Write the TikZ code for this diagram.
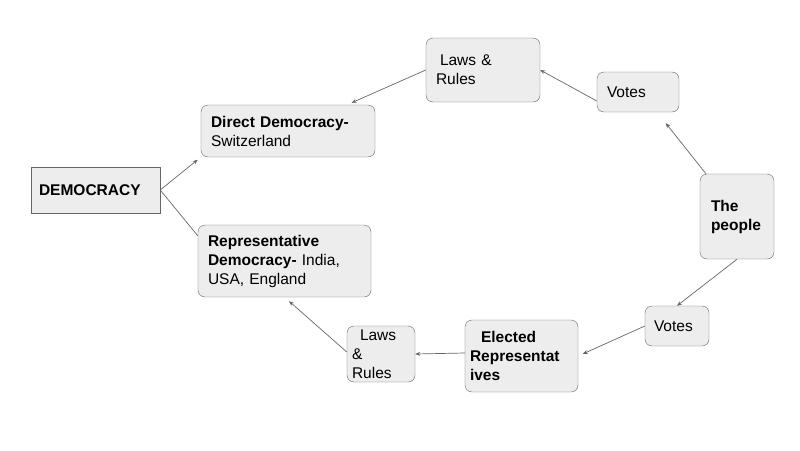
\documentclass[tikz,border=0pt]{standalone}
\usepackage{fontspec}
\setmainfont{Liberation Sans}
\usetikzlibrary{arrows.meta}

\tikzset{
  box/.style={draw=black!60, fill=black!7, rounded corners=7pt, inner xsep=10pt, inner ysep=0pt, align=left,
    font=\fontsize{15.5}{19}\selectfont},
  arr/.style={draw=black!60, line width=0.7pt, -{Stealth[length=5pt,width=4pt]}},
  link/.style={draw=black!60, line width=0.7pt}
}

\begin{document}
\begin{tikzpicture}[x=1pt, y=-1pt]
        \useasboundingbox (0,0) rectangle (800,450);
        \node[box, rounded corners=0pt, inner xsep=8pt, text width=113pt, minimum height=46pt] (dem) at (95.5,190) {\textbf{DEMOCRACY}};
        \node[box, text width=154pt, minimum height=52pt] (direct) at (288,131) {\textbf{Direct Democracy-}\\Switzerland};
        \node[box, text width=153pt, minimum height=72pt] (repr) at (284.5,261) {\textbf{Representative}\\\textbf{Democracy-} India,\\USA, England};
        \node[box, text width=94pt, minimum height=64pt] (lawstop) at (483,70) {\hspace*{4pt}Laws \&\\Rules};
        \node[box, text width=62pt, minimum height=40pt] (votestop) at (638,92) {Votes};
        \node[box, inner xsep=11pt, text width=52pt, minimum height=85pt] (people) at (737,216.5) {\textbf{The}\\\textbf{people}};
        \node[box, inner xsep=9pt, text width=46pt, minimum height=40pt] (votesbot) at (677,326) {Votes};
        \node[box, inner xsep=5pt, text width=103pt, minimum height=72pt] (elected) at (521.5,356) {\hspace*{11pt}\textbf{Elected}\\\textbf{Representat}\\\textbf{ives}};
        \node[box, inner xsep=5pt, text width=58pt, minimum height=56pt] (lawsbot) at (381,354) {\hspace*{8pt}Laws\\\&\\Rules};

        \draw[arr, shorten >=4pt] (dem.east) -- (direct.south west);
        \draw[link] (dem.east) -- ([yshift=-11pt]repr.north west);
        \draw[arr, shorten >=5pt] (lawstop.west) -- ([xshift=59pt]direct.north);
        \draw[arr] ([yshift=-9pt]votestop.west) -- (lawstop.east);
        \draw[arr, shorten >=14pt] ([xshift=-31pt]people.north) -- ([xshift=19pt]votestop.south);
        \draw[arr] (people.south) -- (votesbot.north);
        \draw[arr, shorten >=5pt] (votesbot.west) -- (elected.east);
        \draw[arr] ([yshift=3pt]elected.west) -- (lawsbot.east);
        \draw[arr, shorten >=6pt] ([yshift=2pt]lawsbot.west) -- (repr.south);
    \end{tikzpicture}
\end{document}
